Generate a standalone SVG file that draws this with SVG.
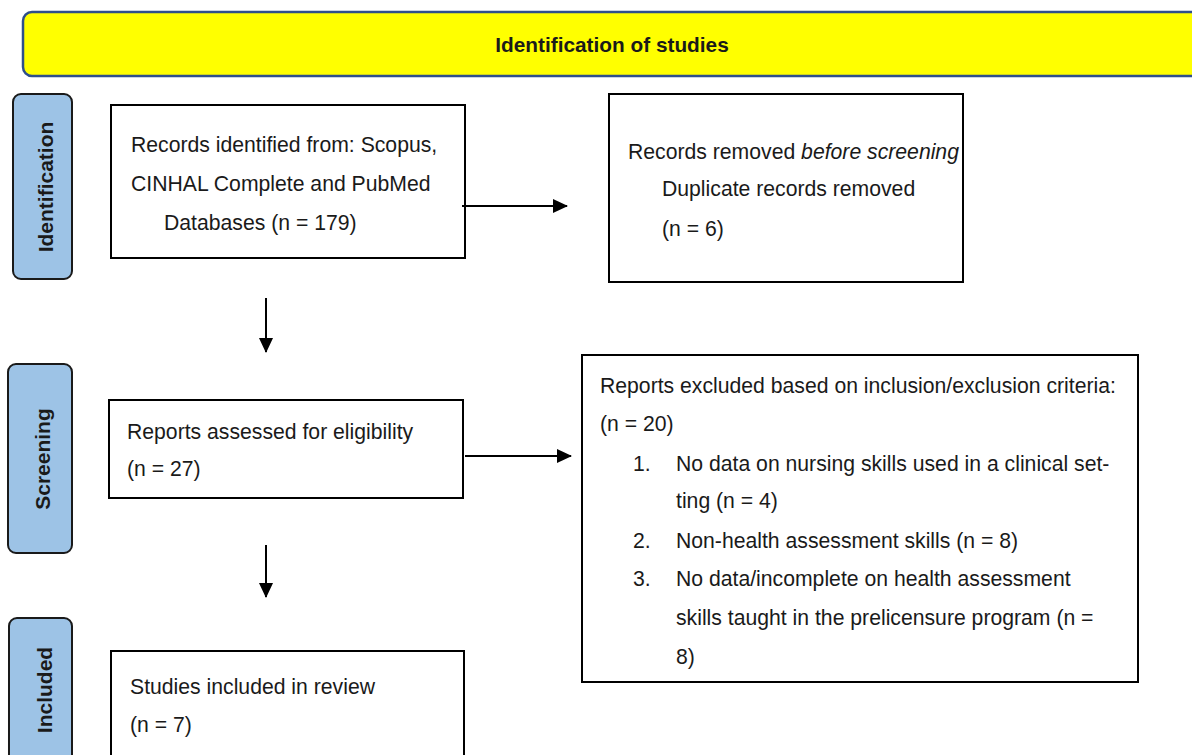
<svg xmlns="http://www.w3.org/2000/svg" width="1192" height="755" viewBox="0 0 1192 755">
<style>
.box{fill:#fff;stroke:#000;stroke-width:2}
.side{fill:#9dc3e6;stroke:#1a1a1a;stroke-width:2}
.t{font-family:"Liberation Sans",Arial,sans-serif;font-size:21.2px;fill:#1a1a1a}
.sl{font-family:"Liberation Sans",Arial,sans-serif;font-size:21px;font-weight:bold;fill:#1a1a1a;text-anchor:middle}
.ln{stroke:#000;stroke-width:2;fill:none}
</style>
<defs>
<marker id="av" markerWidth="16" markerHeight="16" refX="14" refY="7" orient="auto" markerUnits="userSpaceOnUse" viewBox="0 0 16 14">
<path d="M0,0 L15,7 L0,14 Z" fill="#000"/>
</marker>
</defs>
<rect width="1192" height="755" fill="#fff"/>
<g id="header">
<rect x="23" y="12" width="1190" height="64" rx="9" fill="#ffff00" stroke="#2f4f8a" stroke-width="2.5"/>
<text x="612" y="52" font-family="'Liberation Sans',Arial,sans-serif" font-size="20.8" font-weight="bold" fill="#1a1a1a" text-anchor="middle">Identification of studies</text>
</g>
<g id="side-identification">
<rect class="side" x="13" y="94" width="59" height="185" rx="8"/>
<text class="sl" transform="translate(53,187) rotate(-90)">Identification</text>
</g>
<g id="side-screening">
<rect class="side" x="8" y="364" width="64" height="189" rx="8"/>
<text class="sl" transform="translate(50,459) rotate(-90)">Screening</text>
</g>
<g id="side-included">
<rect class="side" x="9" y="618" width="63" height="150" rx="8"/>
<text class="sl" transform="translate(52,690) rotate(-90)">Included</text>
</g>
<g id="records-identified">
<rect class="box" x="111" y="105" width="354" height="153"/>
<text class="t" x="131" y="152">Records identified from: Scopus,</text>
<text class="t" x="131" y="191">CINHAL Complete and PubMed</text>
<text class="t" x="164" y="230">Databases (n = 179)</text>
</g>
<g id="records-removed">
<rect class="box" x="609" y="94" width="354" height="188"/>
<text class="t" x="628" y="159">Records removed <tspan font-style="italic">before screening</tspan></text>
<text class="t" x="662" y="196">Duplicate records removed</text>
<text class="t" x="662" y="236">(n = 6)</text>
</g>
<g id="reports-assessed">
<rect class="box" x="109" y="400" width="354" height="98"/>
<text class="t" x="127" y="439">Reports assessed for eligibility</text>
<text class="t" x="127" y="476">(n = 27)</text>
</g>
<g id="reports-excluded">
<rect class="box" x="582" y="355" width="556" height="327"/>
<text class="t" x="600" y="393">Reports excluded based on inclusion/exclusion criteria:</text>
<text class="t" x="600" y="431">(n = 20)</text>
<text class="t" x="633" y="471">1.</text>
<text class="t" x="676" y="471">No data on nursing skills used in a clinical set-</text>
<text class="t" x="676" y="508">ting (n = 4)</text>
<text class="t" x="633" y="548">2.</text>
<text class="t" x="676" y="548">Non-health assessment skills (n = 8)</text>
<text class="t" x="633" y="586">3.</text>
<text class="t" x="676" y="586">No data/incomplete on health assessment</text>
<text class="t" x="676" y="625">skills taught in the prelicensure program (n =</text>
<text class="t" x="676" y="664">8)</text>
</g>
<g id="studies-included">
<rect class="box" x="111" y="651" width="353" height="120"/>
<text class="t" x="130" y="694">Studies included in review</text>
<text class="t" x="130" y="732">(n = 7)</text>
</g>
<g id="connectors">
<line class="ln" x1="462" y1="206" x2="567" y2="206" marker-end="url(#av)"/>
<line class="ln" x1="465" y1="456" x2="571" y2="456" marker-end="url(#av)"/>
<line class="ln" x1="266" y1="298" x2="266" y2="352" marker-end="url(#av)"/>
<line class="ln" x1="266" y1="545" x2="266" y2="597" marker-end="url(#av)"/>
</g>
</svg>
